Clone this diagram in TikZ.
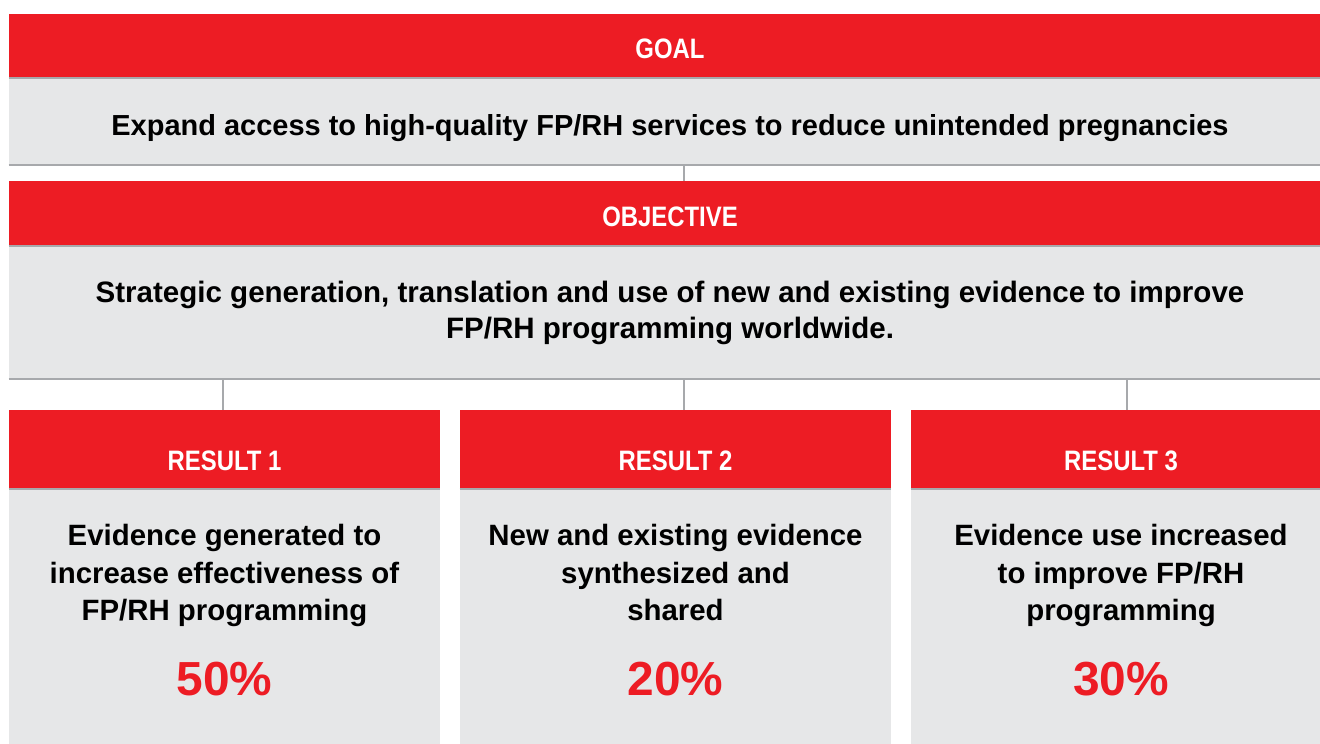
\documentclass[tikz,border=0pt]{standalone}
\usepackage{fontspec}
\setmainfont{Liberation Sans}
\newfontfamily\headfont[FakeStretch=0.85]{Liberation Sans}
\usetikzlibrary{calc}
\definecolor{barred}{HTML}{ED1C24}
\definecolor{boxgray}{HTML}{E6E7E8}
\definecolor{rulegray}{HTML}{A7A9AC}

\tikzset{
  redbar/.style={fill=barred, inner sep=0pt},
  graybox/.style={fill=boxgray, inner sep=0pt},
  headtxt/.style={text=white, anchor=base, inner sep=0pt, font=\headfont\bfseries\fontsize{20}{24}\selectfont},
  bodytxt/.style={align=center, anchor=base, inner sep=0pt, font=\bfseries\fontsize{20.6}{25.6}\selectfont},
  pcttxt/.style={text=barred, anchor=base, inner sep=0pt, font=\bfseries\fontsize{34}{38}\selectfont},
  conn/.style={rulegray, line width=1.4pt},
  edgeline/.style={rulegray, line width=1.2pt},
}

\begin{document}
\begin{tikzpicture}[x=0.025cm,y=-0.025cm]
\useasboundingbox (0,0) rectangle (1320,743);
%% goal
\node[redbar, minimum width=33.05cm, minimum height=1.6cm] (goal) at (670,46) {};
\node[headtxt] (goaltxt) at (670,58) {GOAL};
\node[graybox, minimum width=33.05cm, minimum height=2.15cm, anchor=north] (goalbox) at (goal.south) {};
\node[bodytxt] (goaldesc) at (670,135) {Expand access to high-quality FP/RH services to reduce unintended pregnancies};
\draw[edgeline] (goal.south west) -- (goal.south east);
\draw[edgeline] (goalbox.south west) -- (goalbox.south east);

%% objective
\node[redbar, minimum width=33.05cm, minimum height=1.625cm] (obj) at (670,213.5) {};
\node[headtxt] (objtxt) at (670,226) {OBJECTIVE};
\node[graybox, minimum width=33.05cm, minimum height=3.3cm, anchor=north] (objbox) at (obj.south) {};
\node[bodytxt, font=\bfseries\fontsize{21}{25.6}\selectfont, anchor=north] (objdesc) at (670,281) {Strategic generation, translation and use of new and existing evidence to improve\\FP/RH programming worldwide.};
\draw[edgeline] (obj.south west) -- (obj.south east);
\draw[edgeline] (objbox.south west) -- (objbox.south east);
\coordinate (gl) at (684,181);
\draw[conn] (goalbox.south -| gl) -- (gl);

%% results
\foreach \i/\cx/\w/\lx/\desc/\pc in {
    1/224.5/10.775/223/{Evidence generated to\\increase effectiveness of\\FP/RH programming}/50,
    2/675.5/10.775/684/{New and existing evidence\\synthesized and\\shared}/20,
    3/1121/10.5/1127/{Evidence use increased\\to improve FP/RH\\programming}/30}
{
  \node[redbar, minimum width=\w cm, minimum height=1.975cm] (r\i) at (\cx,449.5) {};
  \node[headtxt] (r\i txt) at (\cx,470) {RESULT \i};
  \node[graybox, minimum width=\w cm, minimum height=6.525cm, anchor=north] (r\i box) at (r\i.south) {};
  \node[bodytxt, font=\bfseries\fontsize{20.9}{26.7}\selectfont, anchor=north] (r\i desc) at (\cx,524) {\desc};
  \node[pcttxt] (r\i pct) at (\cx,695) {\pc\%};
  \draw[edgeline] (r\i.south west) -- (r\i.south east);
  \coordinate (l\i) at (\lx,410);
  \draw[conn] (objbox.south -| l\i) -- (l\i);
}
\end{tikzpicture}
\end{document}
